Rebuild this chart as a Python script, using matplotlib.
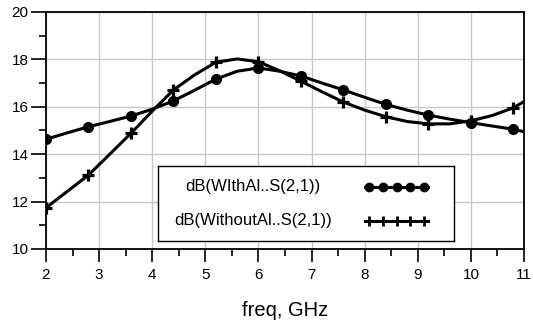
import matplotlib.pyplot as plt
import numpy as np

plt.rcParams["font.family"] = ["Liberation Sans", "DejaVu Sans"]

# values every 0.4 GHz (markers every 0.8 GHz)
freq = [2.0, 2.4, 2.8, 3.2, 3.6, 4.0, 4.4, 4.8, 5.2, 5.6, 6.0, 6.4,
        6.8, 7.2, 7.6, 8.0, 8.4, 8.8, 9.2, 9.6, 10.0, 10.4, 10.8, 11.0]
with_al = [14.63, 14.90, 15.16, 15.38, 15.61, 15.90, 16.25, 16.70,
           17.17, 17.50, 17.64, 17.50, 17.30, 17.00, 16.71, 16.40,
           16.10, 15.86, 15.65, 15.48, 15.33, 15.19, 15.05, 14.95]
without_al = [11.74, 12.43, 13.12, 14.00, 14.88, 15.82, 16.71, 17.35,
              17.88, 18.02, 17.90, 17.52, 17.08, 16.63, 16.20, 15.86,
              15.58, 15.38, 15.28, 15.28, 15.41, 15.63, 15.96, 16.22]

labels = ["dB(WIthAl..S(2,1))", "dB(WithoutAl..S(2,1))"]

fig = plt.figure(figsize=(5.33, 3.27), dpi=100)
ax = fig.add_axes([46 / 533, 1 - 249 / 327, 478 / 533, 237 / 327])

marks = list(range(0, 23, 2))
ax.plot(freq, with_al, color="black", lw=2.2, marker="o", ms=7,
        markevery=marks)
ax.plot(freq, without_al, color="black", lw=2.2, marker="+", ms=8,
        mew=2.3, markevery=marks)

ax.set_xlim(2, 11)
ax.set_ylim(10, 20)
ax.set_xticks(range(2, 12))
ax.set_yticks(range(10, 21, 2))
ax.set_xticks(np.arange(2.5, 11, 1), minor=True)
ax.set_yticks(range(11, 20, 2), minor=True)
ax.grid(True, color="#c8c8c8", lw=1)
ax.tick_params(which="major", width=1.2, labelsize=11, pad=3)
ax.tick_params(axis="x", which="major", length=9.5, pad=4)
ax.tick_params(axis="y", which="major", length=11, pad=1.5)
ax.tick_params(which="minor", length=5, width=1.2)
for s in ax.spines.values():
    s.set_linewidth(1.3)
ax.set_xlabel("freq, GHz", fontsize=14.5, labelpad=13.5)

# legend box
lg = fig.add_axes([158 / 533, 1 - 241 / 327, 296 / 533, 75 / 327])
lg.set_xlim(0, 1)
lg.set_ylim(0, 1)
lg.set_xticks([])
lg.set_yticks([])
for s in lg.spines.values():
    s.set_linewidth(1.0)
rows = [(0.724, "o", 6, 1.0), (0.267, "+", 7, 2.0)]
for (yy, mk, ms, mw), lab in zip(rows, labels):
    lg.text(0.32, yy, lab, ha="center", va="center", fontsize=12)
    lg.plot([0.70, 0.912], [yy, yy], color="black", lw=2.2)
    xs = np.linspace(0.712, 0.90, 5)
    lg.plot(xs, [yy] * 5, ls="none", color="black", marker=mk, ms=ms,
            mew=mw)

fig.savefig("out.png", dpi=100)
